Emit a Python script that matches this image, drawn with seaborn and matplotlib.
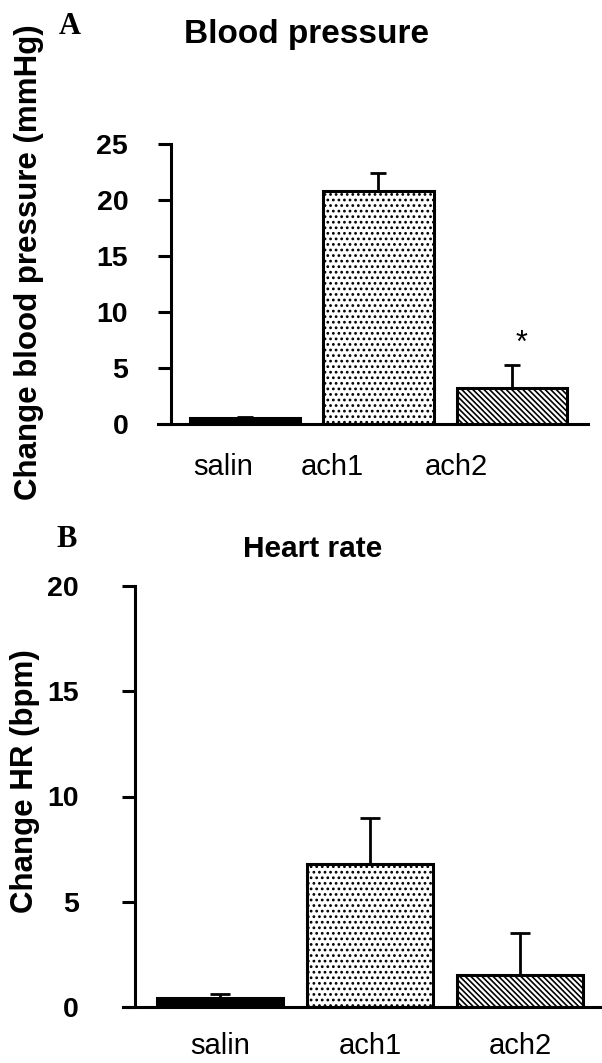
import matplotlib
matplotlib.use("Agg")
import matplotlib.pyplot as plt
import seaborn as sns
import pandas as pd

# ---- data ----
groups = ["salin", "ach1", "ach2"]

bp_mean = [0.5, 20.8, 3.2]      # change in blood pressure (mmHg)
bp_sem = [0.1, 1.6, 2.05]

hr_mean = [0.45, 6.8, 1.5]      # change in heart rate (bpm)
hr_sem = [0.15, 2.2, 2.0]

bp_ticks = [0, 5, 10, 15, 20, 25]
hr_ticks = [0, 5, 10, 15, 20]

bar_faces = {"salin": "black", "ach1": "white", "ach2": "white"}
bar_hatches = {"salin": None, "ach1": "...", "ach2": "\\\\\\\\\\\\"}

# ---- style ----
sns.set_theme(style="white")
plt.rcParams["font.family"] = ["Liberation Sans", "DejaVu Sans"]
plt.rcParams["text.color"] = "black"
plt.rcParams["axes.labelcolor"] = "black"
plt.rcParams["xtick.color"] = "black"
plt.rcParams["ytick.color"] = "black"
plt.rcParams["hatch.linewidth"] = 1.2
plt.rcParams["hatch.color"] = "black"

W, H = 602, 1063
fig = plt.figure(figsize=(W / 100, H / 100), dpi=100)
fig.patch.set_facecolor("white")

LW = 2.2


def px_rect(x0, y_top, x1, y_bottom):
    """Axes rectangle from pixel corners (origin top-left)."""
    return [x0 / W, 1 - y_bottom / H, (x1 - x0) / W, (y_bottom - y_top) / H]


def draw_panel(ax, means, sems, width, xlim, spine_x, ylim, yticks,
               capsize, ytick_pad, xtick_pad, xtick_pos, xtick_size):
    df = pd.DataFrame({"group": groups, "value": means})
    sns.barplot(data=df, x="group", y="value", hue="group",
                palette=bar_faces, dodge=False, legend=False,
                errorbar=None, width=width, edgecolor="black",
                linewidth=LW, ax=ax, zorder=3)
    for patch, g in zip(ax.patches, groups):
        h = bar_hatches[g]
        if h:
            patch.set_hatch(h)
            try:
                patch.set_hatch_linewidth(1.2)
            except AttributeError:
                pass
    # upper half of the SEM bars only
    ax.errorbar(range(len(groups)), means,
                yerr=[[0] * len(groups), sems], fmt="none",
                ecolor="black", elinewidth=2.0, capsize=capsize,
                capthick=2.0, zorder=2)

    # spines first: repositioning a spine rebuilds its ticks
    for side in ("top", "right"):
        ax.spines[side].set_visible(False)
    for side in ("left", "bottom"):
        ax.spines[side].set_visible(True)
        ax.spines[side].set_linewidth(LW)
        ax.spines[side].set_color("black")
        ax.spines[side].set_zorder(4)
    ax.spines["left"].set_position(("data", spine_x))

    ax.set_xlim(*xlim)
    ax.set_ylim(*ylim)
    ax.set_yticks(yticks)
    ax.set_yticklabels([str(t) for t in yticks])
    ax.set_xticks(xtick_pos)
    ax.set_xticklabels(groups)
    ax.set_xlabel("")
    ax.set_ylabel("")
    ax.tick_params(axis="y", which="major", direction="out", length=9.4,
                   width=LW, color="black", pad=ytick_pad, left=True,
                   labelsize=20.5, labelcolor="black")
    ax.tick_params(axis="x", which="major", length=0, pad=xtick_pad,
                   bottom=False, labelsize=xtick_size, labelcolor="black")
    for lab in ax.get_yticklabels():
        lab.set_fontweight("bold")
    ax.patch.set_alpha(0)


# Panel A: blood pressure
axA = fig.add_axes(px_rect(158, 143.6, 588, 424))
draw_panel(axA, bp_mean, bp_sem, width=0.83, xlim=(-0.652, 2.57),
           spine_x=-0.554, ylim=(0, 25), yticks=bp_ticks, capsize=6,
           ytick_pad=21.5, xtick_pad=21, xtick_pos=[-0.165, 0.652, 1.58],
           xtick_size=21)
axA.text(2.07, 6.4, "*", ha="center", va="baseline", fontsize=22)

# Panel B: heart rate
axB = fig.add_axes(px_rect(123, 586, 600, 1007))
draw_panel(axB, hr_mean, hr_sem, width=0.84, xlim=(-0.647, 2.533),
           spine_x=-0.567, ylim=(0, 20), yticks=hr_ticks, capsize=7,
           ytick_pad=31, xtick_pad=18, xtick_pos=[0, 1, 2], xtick_size=21)

# titles, axis labels and panel letters
fig.text(306 / W, 1 - 43 / H, "Blood pressure", ha="center",
         va="baseline", fontsize=24, fontweight="bold")
fig.text(313 / W, 1 - 557 / H, "Heart rate", ha="center",
         va="baseline", fontsize=21.5, fontweight="bold")

fig.text(29 / W, 1 - 262 / H, "Change blood pressure (mmHg)",
         rotation=90, ha="center", va="center", fontsize=22.5,
         fontweight="bold")
fig.text(25 / W, 1 - 781 / H, "Change HR (bpm)", rotation=90,
         ha="center", va="center", fontsize=22.5, fontweight="bold")

fig.text(70 / W, 1 - 34 / H, "A", ha="center", va="baseline",
         fontsize=22, fontweight="bold",
         family=["Liberation Serif", "DejaVu Serif"])
fig.text(67 / W, 1 - 547 / H, "B", ha="center", va="baseline",
         fontsize=22, fontweight="bold",
         family=["Liberation Serif", "DejaVu Serif"])

fig.savefig("out.png", dpi=100, facecolor="white")
